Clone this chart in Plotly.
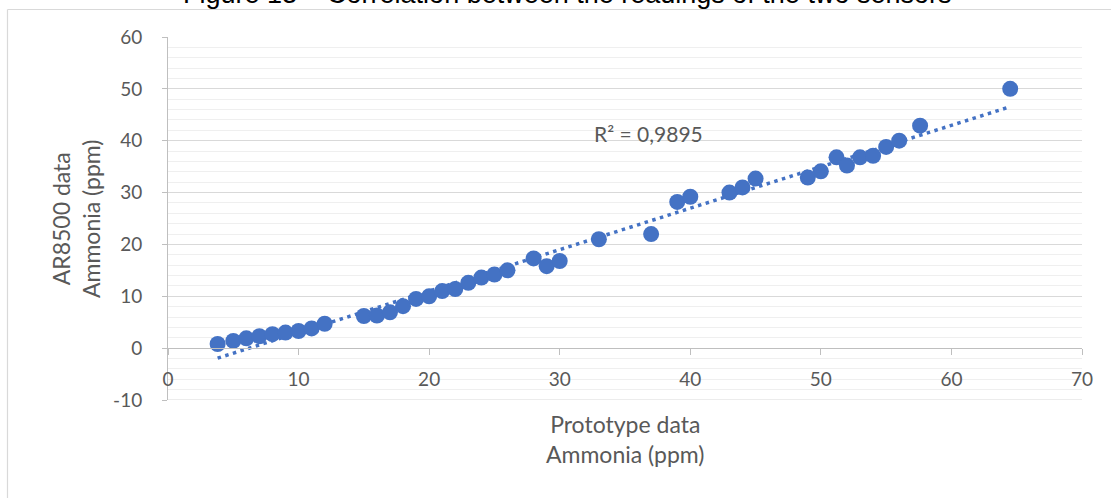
import numpy as np
import plotly.graph_objects as go

# Data
prototype_ppm = [3.8, 5, 6, 7, 8, 9, 10, 11, 12, 15, 16, 17, 18, 19, 20, 21, 22, 23, 24, 25, 26,
                 28, 29, 30, 33, 37, 39, 40, 43, 44, 45, 49, 50, 51.2, 52, 53, 54, 55, 56, 57.6, 64.5]
ar8500_ppm = [0.8, 1.4, 1.9, 2.3, 2.7, 3.0, 3.3, 3.8, 4.7, 6.2, 6.3, 6.9, 8.1, 9.5, 10.0, 11.0, 11.4,
              12.6, 13.6, 14.2, 15.0, 17.3, 15.8, 16.8, 21.0, 22.0, 28.2, 29.2, 30.0, 31.0, 32.7,
              32.9, 34.1, 36.8, 35.2, 36.8, 37.1, 38.8, 40.0, 42.9, 50.0]
x_ticks = [0, 10, 20, 30, 40, 50, 60, 70]
y_ticks = [-10, 0, 10, 20, 30, 40, 50, 60]
y_tick_labels = ["-10", "0", "10", "20", "30", "40", "50", "60"]
r2_label = "R² = 0,9895"
title_text = "Figure 13 – Correlation between the readings of the two sensors"

# Linear trendline computed from the data
xa = np.array(prototype_ppm)
ya = np.array(ar8500_ppm)
slope, intercept = np.polyfit(xa, ya, 1)
trend_x = [xa.min(), xa.max()]
trend_y = [slope * v + intercept for v in trend_x]

BLUE = "#4472C4"
FONT = "Lato"
W, H = 1111, 498
L, R, T, B = 168, 29, 37, 98
pw, ph = W - L - R, H - T - B

def px_x(px):
    return (px - L) / pw

def px_y(py):
    return (H - B - py) / ph

fig = go.Figure()
fig.add_trace(go.Scatter(x=trend_x, y=trend_y, mode="lines",
                         line=dict(color=BLUE, width=3.5, dash="3.5px,4.5px"),
                         hoverinfo="skip", showlegend=False))
fig.add_trace(go.Scatter(x=prototype_ppm, y=ar8500_ppm, mode="markers",
                         marker=dict(color=BLUE, size=16, line=dict(width=0)),
                         showlegend=False))

fig.update_layout(
    width=W, height=H,
    margin=dict(l=L, r=R, t=T, b=B, pad=0),
    paper_bgcolor="white", plot_bgcolor="white",
    font=dict(family=FONT, size=19, color="#595959"),
    xaxis=dict(range=[0, 70], tickvals=x_ticks, showgrid=False, zeroline=False,
               anchor="free", position=1/7,
               showline=True, linecolor="#bfbfbf", linewidth=1,
               ticks="outside", ticklen=6, tickcolor="#bfbfbf",
               ticklabelstandoff=8,
               tickfont=dict(family=FONT, size=19, color="#595959")),
    yaxis=dict(range=[-10, 60], tickvals=y_ticks, ticktext=y_tick_labels,
               showgrid=True, gridcolor="#d9d9d9",
               gridwidth=1, zeroline=False,
               showline=True, linecolor="#bfbfbf", linewidth=1,
               ticks="outside", ticklen=5, tickcolor="#bfbfbf",
               ticklabelstandoff=16,
               minor=dict(dtick=2, showgrid=True, gridcolor="#efefef", gridwidth=1, ticks=""),
               tickfont=dict(family=FONT, size=19, color="#595959")),
)

# bottom gridline at -10 (in case not drawn)
fig.add_shape(type="line", xref="x", yref="y", x0=0, x1=70, y0=-10, y1=-10,
              line=dict(color="#d9d9d9", width=1), layer="below")

# frame border
fig.add_shape(type="line", xref="paper", yref="paper", x0=px_x(7.5), x1=px_x(7.5),
              y0=px_y(H + 2), y1=px_y(9.5), line=dict(color="#d9d9d9", width=1.2))
fig.add_shape(type="line", xref="paper", yref="paper", x0=px_x(7.5), x1=px_x(W + 2),
              y0=px_y(9.5), y1=px_y(9.5), line=dict(color="#d9d9d9", width=1.2))

# axis titles
fig.add_annotation(text="Prototype data<br>Ammonia (ppm)", xref="paper", yref="paper",
                   x=px_x(625), y=px_y(439), xanchor="center", yanchor="middle",
                   showarrow=False, font=dict(family=FONT, size=23, color="#595959"))
fig.add_annotation(text="AR8500 data<br>Ammonia (ppm)", xref="paper", yref="paper",
                   x=px_x(76), y=px_y(219), xanchor="center", yanchor="middle",
                   textangle=-90, showarrow=False,
                   font=dict(family=FONT, size=23, color="#595959"))
# R² label
fig.add_annotation(text=r2_label, xref="paper", yref="paper",
                   x=px_x(648), y=px_y(133), xanchor="center", yanchor="middle",
                   showarrow=False, font=dict(family=FONT, size=21, color="#595959"))
# caption at top, cut off by the top edge as in the reference
fig.add_annotation(text=title_text, xref="paper", yref="paper",
                   x=px_x(567), y=px_y(11), xanchor="center", yanchor="bottom",
                   showarrow=False, font=dict(family="Liberation Sans", size=27, color="#000000"))

fig.write_html("out.html")
